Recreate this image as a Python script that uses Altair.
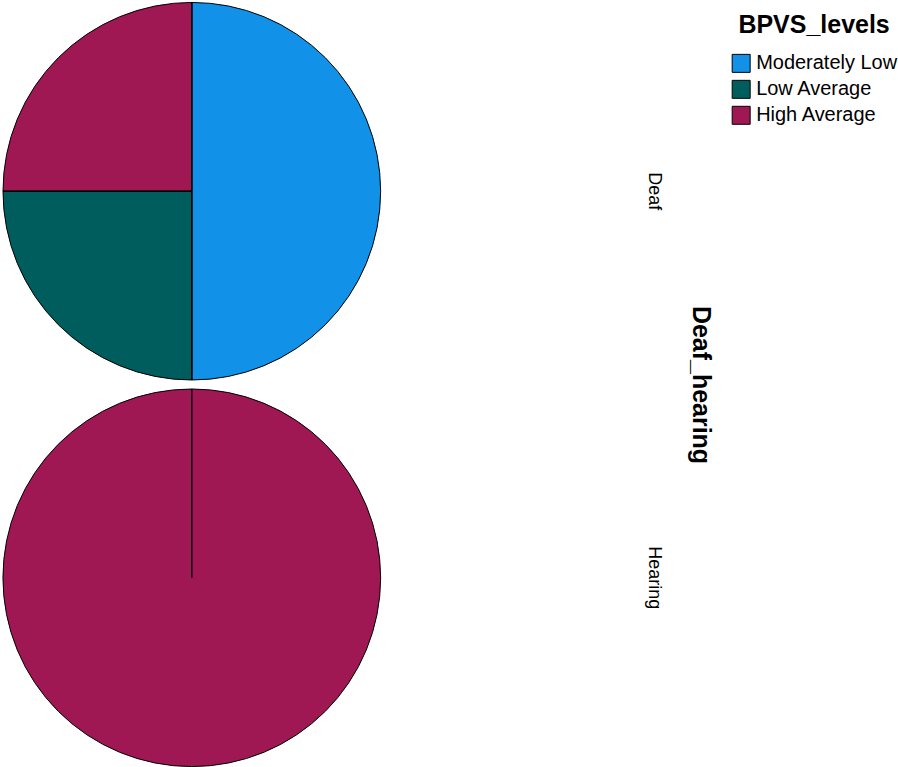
import altair as alt
import pandas as pd

groups = ["Deaf", "Deaf", "Deaf", "Hearing"]
levels = ["Moderately Low", "Low Average", "High Average", "High Average"]
percents = [50, 25, 25, 100]
level_order = ["Moderately Low", "Low Average", "High Average"]
level_colors = ["#1192e8", "#005d5d", "#9f1853"]

df = pd.DataFrame({"Deaf_hearing": groups, "BPVS_levels": levels, "pct": percents})
df["ord"] = df["BPVS_levels"].map({k: i for i, k in enumerate(level_order)})

theta_scale = alt.Scale(domain=[0, 100])

base = alt.Chart().transform_stack(
    stack="pct",
    groupby=["Deaf_hearing"],
    as_=["start", "end"],
    sort=[alt.SortField("ord", order="ascending")],
)

slices = base.mark_arc(stroke="black", strokeWidth=1, outerRadius=189).encode(
    theta=alt.Theta("start:Q", scale=theta_scale),
    theta2="end:Q",
    color=alt.Color(
        "BPVS_levels:N",
        scale=alt.Scale(domain=level_order, range=level_colors),
        legend=alt.Legend(
            title="BPVS_levels",
            orient="none",
            legendX=729,
            legendY=11,
            symbolType="square",
            symbolSize=324,
            symbolStrokeColor="black",
            symbolStrokeWidth=1,
            labelFontSize=20,
            titleFontSize=25,
            titleFont="Liberation Sans",
            labelFont="Liberation Sans",
            titleColor="black",
            labelColor="black",
            labelOffset=5,
            rowPadding=4,
            titlePadding=15,
            titleAnchor="middle",
        ),
    ),
)

edges = base.mark_arc(
    stroke="black", strokeWidth=1, fillOpacity=0, outerRadius=189
).encode(
    theta=alt.Theta("start:Q", scale=theta_scale),
    theta2="start:Q",
)

layered = alt.layer(slices, edges, data=df).properties(width=378, height=378)

chart = layered.facet(
    row=alt.Row(
        "Deaf_hearing:N",
        title="Deaf_hearing",
        sort=["Deaf", "Hearing"],
        header=alt.Header(
            labelOrient="right",
            titleOrient="right",
            labelAngle=90,
            titleAngle=90,
            labelFont="Liberation Sans",
            titleFont="Liberation Sans",
            labelFontSize=18,
            titleFontSize=25,
            titleFontWeight="bold",
            labelColor="black",
            titleColor="black",
            labelPadding=263,
            titlePadding=15,
        ),
    ),
    spacing=5,
).properties(
    padding={"left": 1, "top": 0, "right": 0, "bottom": 0}
).configure_view(stroke=None)

chart.save("out.html", embed_options={"renderer": "svg", "actions": False})
